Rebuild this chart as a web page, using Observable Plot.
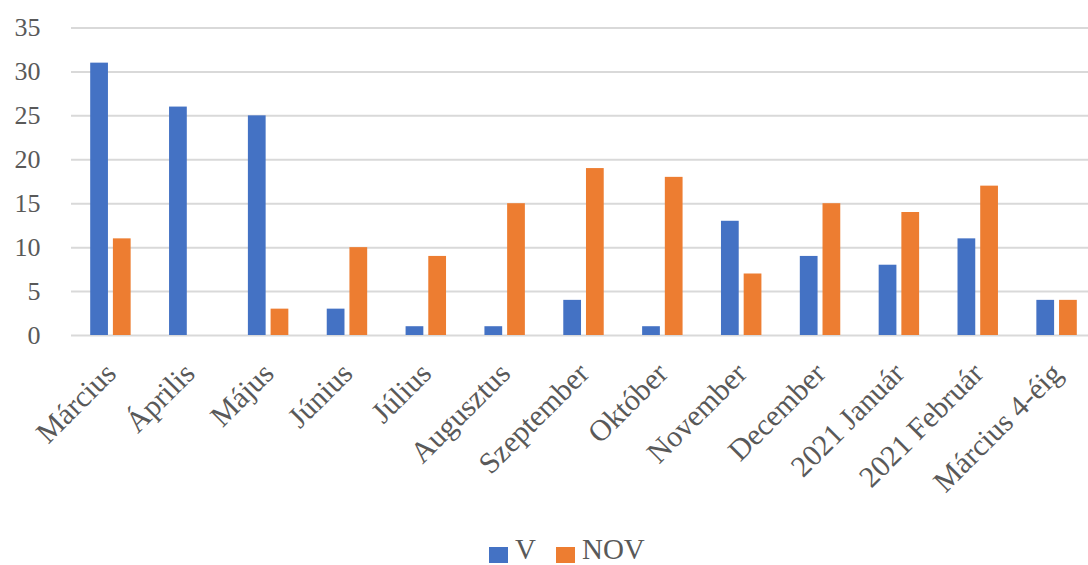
<!DOCTYPE html>
<html><head><meta charset="utf-8">
<script src="https://cdn.jsdelivr.net/npm/d3@7"></script>
<script src="https://cdn.jsdelivr.net/npm/@observablehq/plot@0.6"></script>
<style>
body{margin:0;background:#fff;font-family:"Liberation Serif","Times New Roman",serif;}
#chart{position:relative;width:1088px;height:565px;}
#legend{position:absolute;left:489px;top:538px;display:flex;align-items:center;color:#595959;font-size:29px;line-height:22px;}
.item{display:flex;align-items:center;}
.item + .item{margin-left:20px;}
.sw{width:19px;height:16px;margin-right:7px;position:relative;top:6px;}
</style></head><body>
<div id="chart"><div id="legend"></div></div>
<script>
const months = ["Március","Április","Május","Június","Július","Augusztus","Szeptember","Október","November","December","2021 Január","2021 Február","Március 4-éig"];
const vValues = [31,26,25,3,1,1,4,1,13,9,8,11,4];
const novValues = [11,0,3,10,9,15,19,18,7,15,14,17,4];
const yTicks = [0,5,10,15,20,25,30,35];
const seriesNames = ["V","NOV"];
const seriesColors = ["#4472C4","#ED7D31"];

const rows = months.map((m,i)=>({month:m, V:vValues[i], NOV:novValues[i]}));

const plot = Plot.plot({
  width:1088, height:535,
  marginLeft:71, marginRight:0, marginTop:27.5, marginBottom:200,
  style:{fontFamily:'"Liberation Serif","Times New Roman",serif', color:"#595959", background:"#fff", overflow:"visible"},
  x:{domain:months, range:[71,1096], padding:0, round:false},
  y:{domain:[0,35]},
  marks:[
    Plot.ruleY(yTicks, {stroke:"#d9d9d9", strokeWidth:2}),
    Plot.barY(rows, {x:"month", y:"V", fill:seriesColors[0], insetLeft:19.2, insetRight:41.9}),
    Plot.barY(rows, {x:"month", y:"NOV", fill:seriesColors[1], insetLeft:41.9, insetRight:19.2}),
    Plot.axisY(yTicks, {tickSize:0, tickPadding:31, fontSize:26, tickFormat:d=>d, label:null}),
    Plot.axisX({tickSize:0, tickPadding:33, tickRotate:-45, fontSize:30, label:null})
  ]
});
document.getElementById("chart").prepend(plot);

const legend = document.getElementById("legend");
seriesNames.forEach((n,i)=>{
  const it=document.createElement("div"); it.className="item";
  const sw=document.createElement("div"); sw.className="sw"; sw.style.background=seriesColors[i];
  const t=document.createElement("span"); t.textContent=n;
  it.append(sw,t); legend.append(it);
});
</script>
</body></html>
